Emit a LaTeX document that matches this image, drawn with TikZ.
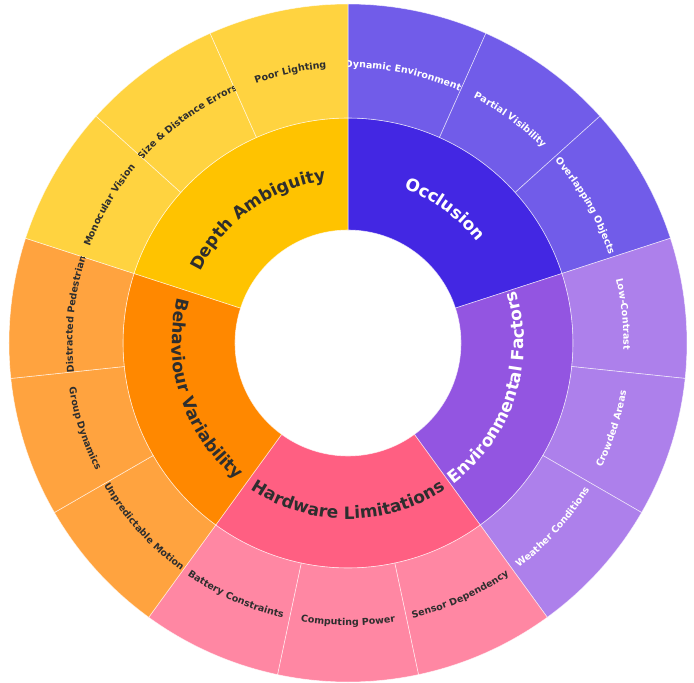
\documentclass[tikz,border=0pt]{standalone}
\usepackage{fontspec}
\setmainfont{DejaVu Sans}
\usetikzlibrary{decorations.text}
\definecolor{occA}{HTML}{4327E3}
\definecolor{occB}{HTML}{715CE9}
\definecolor{envA}{HTML}{9355E1}
\definecolor{envB}{HTML}{AD80EB}
\definecolor{hwA}{HTML}{FF5F82}
\definecolor{hwB}{HTML}{FF87A3}
\definecolor{behA}{HTML}{FF8800}
\definecolor{behB}{HTML}{FFA33F}
\definecolor{depA}{HTML}{FFC300}
\definecolor{depB}{HTML}{FFD340}
\definecolor{txtdark}{HTML}{2E2E2E}
\newcommand\innerfont{\bfseries\fontsize{17}{20}\selectfont}
\newcommand\outerfont{\bfseries\fontsize{9.5}{11}\selectfont}
% sector path: a1 a2 r1 r2
\newcommand\secpath[4]{(#1:#3pt) arc[start angle=#1,end angle=#2,radius=#3pt] -- (#2:#4pt) arc[start angle=#2,end angle=#1,radius=#4pt] -- cycle}
\newcommand\ringseg[5]{\path[segstyle,fill=#5] \secpath{#1}{#2}{#3}{#4};}
% clockwise label: mid, radius, half-span, font, color, text
\newcommand\labcw[6]{\pgfmathsetmacro\lsa{#1+#3}\pgfmathsetmacro\lea{#1-#3}%
 \path[decorate,decoration={text along path,text align=center,text color=#5,text={|#4|#6}}] (\lsa:#2pt) arc[start angle=\lsa,end angle=\lea,radius=#2pt];}
% counter-clockwise label
\newcommand\labccw[6]{\pgfmathsetmacro\lsa{#1-#3}\pgfmathsetmacro\lea{#1+#3}%
 \path[decorate,decoration={text along path,text align=center,text color=#5,text={|#4|#6}}] (\lsa:#2pt) arc[start angle=\lsa,end angle=\lea,radius=#2pt];}
% outer labels clipped to their sector: sector mid, text mid, colour, text
\newcommand\outcw[4]{\begin{scope}\clip \secpath{#1-12}{#1+12}{225}{339};\labcw{#2}{275.5}{40}{\outerfont}{#3}{#4}\end{scope}}
\newcommand\outccw[4]{\begin{scope}\clip \secpath{#1-12}{#1+12}{225}{339};\labccw{#2}{282.5}{40}{\outerfont}{#3}{#4}\end{scope}}
\begin{document}
\begin{tikzpicture}[x=1pt,y=1pt,segstyle/.style={draw=white,draw opacity=0.65,line width=0.6pt}]
\useasboundingbox (-348pt,-340pt) rectangle (346pt,343pt);
% inner ring
\ringseg{90}{18}{113}{225}{occA}
\ringseg{18}{-54}{113}{225}{envA}
\ringseg{-54}{-126}{113}{225}{hwA}
\ringseg{-126}{-198}{113}{225}{behA}
\ringseg{162}{90}{113}{225}{depA}
% outer ring
\ringseg{90}{66}{225}{339}{occB}
\ringseg{66}{42}{225}{339}{occB}
\ringseg{42}{18}{225}{339}{occB}
\ringseg{18}{-6}{225}{339}{envB}
\ringseg{-6}{-30}{225}{339}{envB}
\ringseg{-30}{-54}{225}{339}{envB}
\ringseg{-54}{-78}{225}{339}{hwB}
\ringseg{-78}{-102}{225}{339}{hwB}
\ringseg{-102}{-126}{225}{339}{hwB}
\ringseg{-126}{-150}{225}{339}{behB}
\ringseg{-150}{-174}{225}{339}{behB}
\ringseg{-174}{-198}{225}{339}{behB}
\ringseg{162}{138}{225}{339}{depB}
\ringseg{138}{114}{225}{339}{depB}
\ringseg{114}{90}{225}{339}{depB}
% inner labels
\labcw{54}{164}{80}{\innerfont}{white}{Occlusion}
\labccw{-18}{176}{80}{\innerfont}{white}{Environmental Factors}
\labccw{-90}{176}{80}{\innerfont}{txtdark}{Hardware Limitations}
\labccw{-162}{176}{80}{\innerfont}{txtdark}{Behaviour Variability}
\labcw{126}{164}{80}{\innerfont}{txtdark}{Depth Ambiguity}
% outer labels
\outcw{78}{78.4}{white}{Dynamic Environment}
\outcw{54}{54}{white}{Partial Visibility}
\outcw{30}{30}{white}{Overlapping Objects}
\outcw{6}{6}{white}{Low-Contrast}
\outccw{-18}{-18}{white}{Crowded Areas}
\outccw{-42}{-42}{white}{Weather Conditions}
\outccw{-66}{-66}{txtdark}{Sensor Dependency}
\outccw{-90}{-90}{txtdark}{Computing Power}
\outccw{-114}{-114}{txtdark}{Battery Constraints}
\outccw{-138}{-138}{txtdark}{Unpredictable Motion}
\outccw{-162}{-162}{txtdark}{Group Dynamics}
\outcw{174}{174}{txtdark}{Distracted Pedestrian}
\outcw{150}{150}{txtdark}{Monocular Vision}
\outcw{126}{126}{txtdark}{Size {\&} Distance Errors}
\outcw{102}{102}{txtdark}{Poor Lighting}
\end{tikzpicture}
\end{document}
